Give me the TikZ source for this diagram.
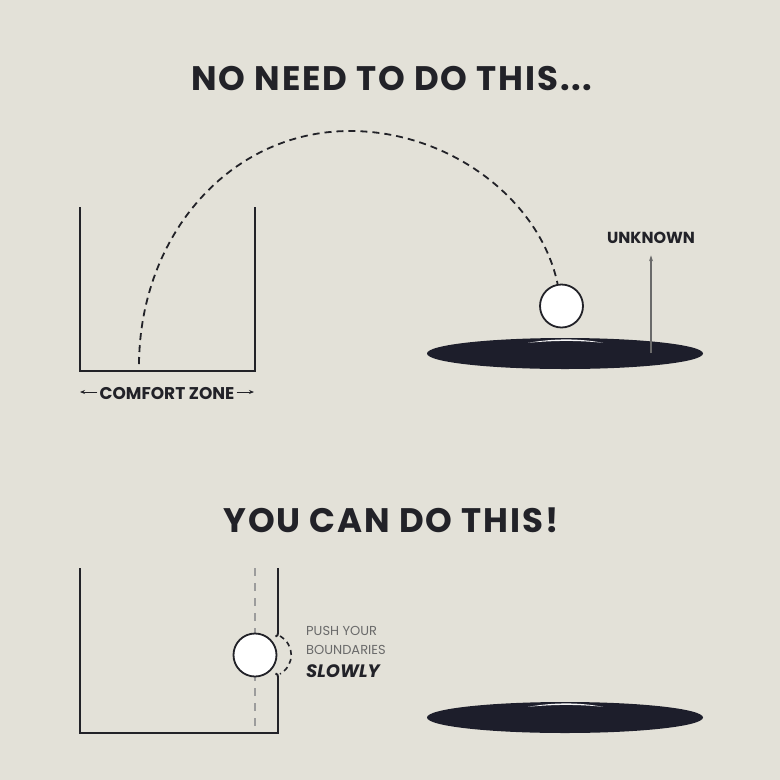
\documentclass[tikz,border=0pt]{standalone}
\usepackage{fontspec}
\setmainfont{Poppins}
\usetikzlibrary{arrows.meta,shapes.geometric}
\definecolor{bg}{HTML}{E3E1D8}
\definecolor{ink}{HTML}{222228}
\definecolor{holecol}{HTML}{1D1E2B}
\definecolor{soft}{HTML}{6A6A6A}
\definecolor{guide}{HTML}{9C9C9C}
\begin{document}
\begin{tikzpicture}[x=1pt,y=-1pt,
  wall/.style={draw=ink,line width=1.9pt},
  jumpline/.style={draw=ink,line width=1.8pt,dash pattern=on 7pt off 5pt},
  bulgeline/.style={draw=ink,line width=1.6pt,dash pattern=on 5pt off 4pt},
  guideline/.style={draw=guide,line width=1.1pt,dash pattern=on 8pt off 7pt},
  ball/.style={circle,draw=ink,line width=1.8pt,fill=white,minimum size=43pt,inner sep=0pt},
  holeshape/.style={ellipse,fill=holecol,minimum width=276pt,minimum height=31pt,inner sep=0pt},
  gleam/.style={fill=white!96!holecol},
  titletext/.style={font=\fontsize{34}{38}\selectfont\bfseries\addfontfeatures{LetterSpace=5.5},text=ink,anchor=base,inner sep=0pt},
  labeltext/.style={font=\fontsize{16}{18}\selectfont\bfseries,text=ink,anchor=base,inner sep=2pt},
  pushtext/.style={font=\fontsize{13}{15}\selectfont,text=soft,anchor=base west,inner sep=0pt},
  slowtext/.style={font=\fontsize{18}{20}\selectfont\bfseries\itshape,text=ink,anchor=base west,inner sep=0pt},
  smallarrow/.style={draw=soft,line width=1.1pt,-{Stealth[length=6pt,width=4pt]}},
  zonearrow/.style={draw=ink,line width=0.9pt,-{Stealth[length=5pt,width=4pt]}}
]
\fill[bg] (0,0) rectangle (780,780);
\useasboundingbox (0,0) rectangle (780,780);

% ---------- top ----------
\node[titletext] (titleA) at (392,90) {NO NEED TO DO THIS...};

\draw[wall] (80,207) -- (80,371) -- (255,371) -- (255,207);

\node[ball] (ballA) at (561.5,306) {};
\node[holeshape] (holeA) at (565,353.5) {};
\fill[gleam] (528,342.8) .. controls (555,338.3) and (578,338.3) .. (603,342.8)
             .. controls (578,340.3) and (555,340.3) .. (528,342.8);

\coordinate (jumpstart) at (139,364);
\draw[jumpline] (jumpstart) .. controls (140,235) and (230,131) .. (350,131)
                .. controls (450,131) and (540,200) .. (ballA.100);

\node[labeltext] (unknown) at (651,243) {UNKNOWN};
\coordinate (unkfoot) at (651,353);
\draw[smallarrow,shorten >=10pt] (unkfoot) -- (unknown.south);

\node[labeltext,font=\fontsize{17}{19}\selectfont\bfseries] (comfort) at (167,399) {COMFORT ZONE};
\coordinate (czleft) at (80,392);
\coordinate (czright) at (254,392);
\draw[zonearrow] (comfort.west |- czleft) -- (czleft);
\draw[zonearrow] (comfort.east |- czright) -- (czright);

% ---------- bottom ----------
\node[titletext] (titleB) at (391,532) {YOU CAN DO THIS!};

\draw[guideline] (255,568) -- (255,733);
\draw[wall] (80,568) -- (80,733) -- (278,733) -- (278,677)
            .. controls (278,675) and (277.5,674) .. (275.5,673.5);
\draw[wall] (278,568) -- (278,633)
            .. controls (278,635) and (277.5,636) .. (275.5,636.5);
\node[ball] (ballB) at (255,655) {};
\draw[bulgeline] (280,636) .. controls (295,645) and (295,665) .. (280,674);

\node[pushtext] (push1) at (306,635) {PUSH YOUR};
\node[pushtext] (push2) at (306,654) {BOUNDARIES};
\node[slowtext] (push3) at (306,677) {SLOWLY};

\node[holeshape] (holeB) at (565,717.5) {};
\fill[gleam] (528,706.8) .. controls (555,702.3) and (578,702.3) .. (603,706.8)
             .. controls (578,704.3) and (555,704.3) .. (528,706.8);
\end{tikzpicture}
\end{document}
